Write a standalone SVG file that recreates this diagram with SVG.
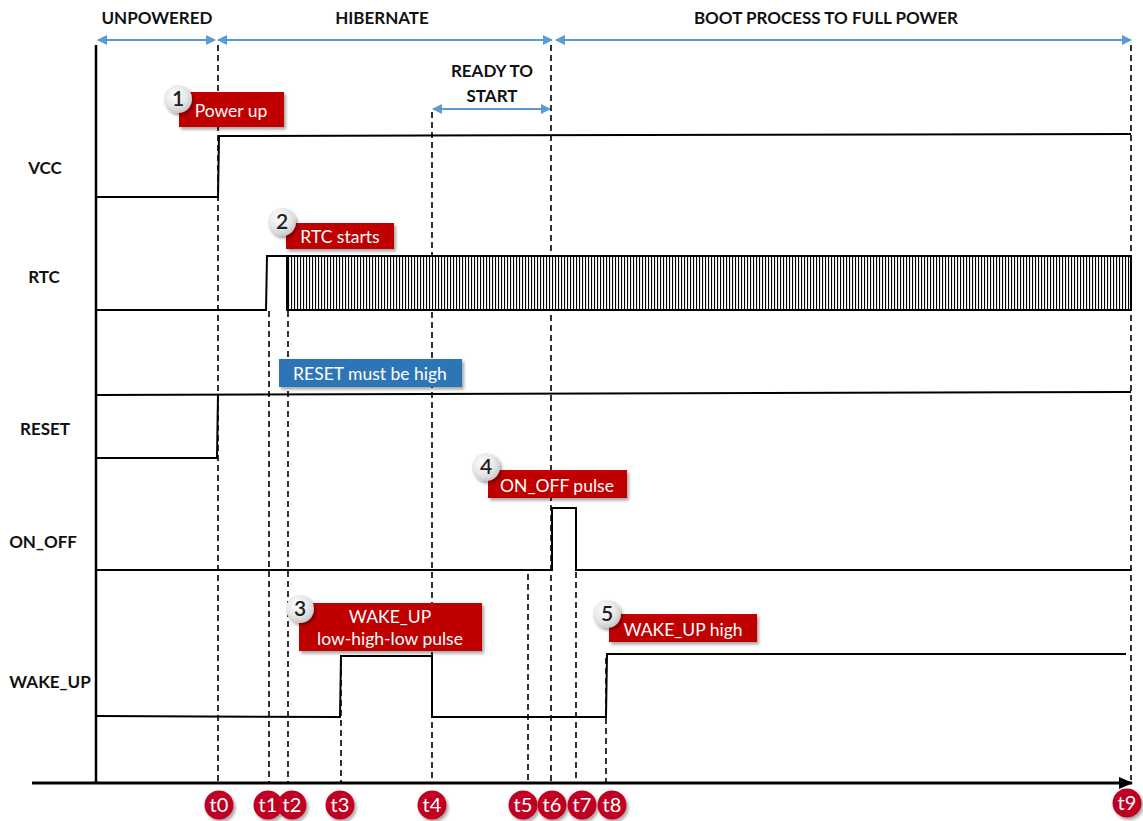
<svg xmlns="http://www.w3.org/2000/svg" width="1143" height="821" viewBox="0 0 1143 821">
<style>
  .lbl { font-family: Lato, "Open Sans", sans-serif; font-weight: bold; font-size: 17px; fill: #111; }
  .sig { fill: none; stroke: #000; stroke-width: 2; }
  .dash { fill: none; stroke: #000; stroke-width: 1.6; stroke-dasharray: 6 4; }
  .span { fill: none; stroke: #5B9BD5; stroke-width: 2; marker-start: url(#bs); marker-end: url(#be); }
  .box { fill: #C00000; filter: url(#sh); }
  .boxb { fill: #2E75B6; filter: url(#sh); }
  .bt { font-family: Lato, "Open Sans", sans-serif; font-size: 17.5px; fill: #fff; }
  .num { fill: url(#g); filter: url(#sh); }
  .nt { font-family: Lato, "Open Sans", sans-serif; font-size: 21px; font-weight: 600; fill: #222; text-anchor: middle; }
  .tc { fill: #C00021; filter: url(#sh); }
  .tt { font-family: Lato, "Open Sans", sans-serif; font-size: 20px; fill: #fff; text-anchor: middle; }
</style>
<defs>
  <marker id="be" markerWidth="10" markerHeight="10" refX="9" refY="5" orient="auto" markerUnits="userSpaceOnUse">
    <path d="M0,0 L10,5 L0,10 Z" fill="#5B9BD5"/>
  </marker>
  <marker id="bs" markerWidth="10" markerHeight="10" refX="1" refY="5" orient="auto" markerUnits="userSpaceOnUse">
    <path d="M10,0 L0,5 L10,10 Z" fill="#5B9BD5"/>
  </marker>
  <marker id="ax" markerWidth="14" markerHeight="12" refX="13" refY="6" orient="auto" markerUnits="userSpaceOnUse">
    <path d="M0,0 L14,6 L0,12 Z" fill="#000"/>
  </marker>
  <pattern id="hatch" width="3" height="10" patternUnits="userSpaceOnUse">
    <rect width="3" height="10" fill="#fff"/>
    <rect width="1.1" height="10" fill="#000"/>
  </pattern>
  <radialGradient id="g" cx="0.4" cy="0.35" r="0.7">
    <stop offset="0" stop-color="#ffffff"/>
    <stop offset="0.6" stop-color="#e6e6e6"/>
    <stop offset="1" stop-color="#c4c4c4"/>
  </radialGradient>
  <filter id="sh" x="-20%" y="-30%" width="150%" height="170%">
    <feDropShadow dx="2" dy="2.5" stdDeviation="1.8" flood-color="#000" flood-opacity="0.35"/>
  </filter>
</defs>
<rect width="1143" height="821" fill="#fff"/>

<g id="phases">
  <text class="lbl" x="157" y="24" text-anchor="middle">UNPOWERED</text>
  <text class="lbl" x="382" y="24" text-anchor="middle">HIBERNATE</text>
  <text class="lbl" x="826" y="24" text-anchor="middle">BOOT PROCESS TO FULL POWER</text>
  <text class="lbl" x="492" y="77" text-anchor="middle">READY TO</text>
  <text class="lbl" x="492" y="102" text-anchor="middle">START</text>
</g>

<g id="signal-names">
  <text class="lbl" x="45" y="174" text-anchor="middle">VCC</text>
  <text class="lbl" x="44" y="283" text-anchor="middle">RTC</text>
  <text class="lbl" x="45" y="435" text-anchor="middle">RESET</text>
  <text class="lbl" x="43" y="548" text-anchor="middle">ON_OFF</text>
  <text class="lbl" x="50" y="688" text-anchor="middle">WAKE_UP</text>
</g>

<g id="connectors">
  <line class="span" x1="98" y1="40" x2="215" y2="40"/>
  <line class="span" x1="218" y1="40" x2="552" y2="40"/>
  <line class="span" x1="556" y1="40" x2="1131" y2="40"/>
  <line class="span" x1="433" y1="109" x2="550" y2="109"/>

  <line class="dash" x1="218" y1="45" x2="218" y2="782"/>
  <line class="dash" x1="269" y1="311" x2="269" y2="782"/>
  <line class="dash" x1="288" y1="311" x2="288" y2="782"/>
  <line class="dash" x1="341" y1="660" x2="341" y2="782"/>
  <line class="dash" x1="432" y1="112" x2="432" y2="782"/>
  <line class="dash" x1="528" y1="574" x2="528" y2="782"/>
  <line class="dash" x1="551" y1="45" x2="551" y2="782"/>
  <line class="dash" x1="576" y1="572" x2="576" y2="782"/>
  <line class="dash" x1="606" y1="658" x2="606" y2="782"/>
  <line class="dash" x1="1131" y1="45" x2="1131" y2="780"/>

  <line x1="96" y1="45" x2="96" y2="784" stroke="#000" stroke-width="2.5"/>
  <line x1="32" y1="783" x2="1132" y2="783" stroke="#000" stroke-width="3" marker-end="url(#ax)"/>
</g>

<g id="vcc">
  <polyline class="sig" points="97,197 218,197 219,136 1131,134"/>
</g>
<g id="rtc">
  <polyline class="sig" points="97,310 266,310 267,256 287,256"/>
  <rect x="287" y="256" width="844" height="54" fill="url(#hatch)" stroke="#000" stroke-width="2"/>
</g>
<g id="reset">
  <polyline class="sig" points="97,458 217,458 218,394"/>
  <line class="sig" x1="97" y1="395" x2="1131" y2="392"/>
</g>
<g id="on_off">
  <polyline class="sig" points="97,570 552,570 552,508 576,508 576,570 1131,570"/>
</g>
<g id="wake_up">
  <polyline class="sig" points="97,716 340,717 341,656 432,656 432,717 606,717 607,654 1126,654"/>
</g>

<g id="note1">
  <rect class="box" x="179" y="92" width="105" height="35"/>
  <text class="bt" x="231" y="117" text-anchor="middle">Power up</text>
  <circle class="num" cx="178" cy="99" r="14"/>
  <text class="nt" x="178" y="106">1</text>
</g>
<g id="note2">
  <rect class="box" x="286" y="223" width="108" height="26"/>
  <text class="bt" x="340" y="243" text-anchor="middle">RTC starts</text>
  <circle class="num" cx="282" cy="222" r="14"/>
  <text class="nt" x="282" y="229">2</text>
</g>
<g id="note-reset">
  <rect class="boxb" x="279" y="359" width="183" height="28"/>
  <text class="bt" x="370" y="380" text-anchor="middle">RESET must be high</text>
</g>
<g id="note3">
  <rect class="box" x="299" y="603" width="183" height="48"/>
  <text class="bt" x="390" y="623" text-anchor="middle">WAKE_UP</text>
  <text class="bt" x="390" y="645" text-anchor="middle">low-high-low pulse</text>
  <circle class="num" cx="300" cy="609" r="14"/>
  <text class="nt" x="300" y="616">3</text>
</g>
<g id="note4">
  <rect class="box" x="488" y="470" width="139" height="28"/>
  <text class="bt" x="557" y="492" text-anchor="middle">ON_OFF pulse</text>
  <circle class="num" cx="486" cy="467" r="14"/>
  <text class="nt" x="486" y="474">4</text>
</g>
<g id="note5">
  <rect class="box" x="609" y="614" width="148" height="28"/>
  <text class="bt" x="683" y="636" text-anchor="middle">WAKE_UP high</text>
  <circle class="num" cx="607" cy="614" r="14"/>
  <text class="nt" x="607" y="621">5</text>
</g>

<g id="times">
  <circle class="tc" cx="219" cy="805" r="14.5"/><text class="tt" x="219" y="812">t0</text>
  <circle class="tc" cx="268" cy="805" r="14.5"/><text class="tt" x="268" y="812">t1</text>
  <circle class="tc" cx="292" cy="805" r="14.5"/><text class="tt" x="292" y="812">t2</text>
  <circle class="tc" cx="340" cy="805" r="14.5"/><text class="tt" x="340" y="812">t3</text>
  <circle class="tc" cx="432" cy="805" r="14.5"/><text class="tt" x="432" y="812">t4</text>
  <circle class="tc" cx="523" cy="805" r="14.5"/><text class="tt" x="523" y="812">t5</text>
  <circle class="tc" cx="552" cy="805" r="14.5"/><text class="tt" x="552" y="812">t6</text>
  <circle class="tc" cx="582" cy="805" r="14.5"/><text class="tt" x="582" y="812">t7</text>
  <circle class="tc" cx="612" cy="805" r="14.5"/><text class="tt" x="612" y="812">t8</text>
  <circle class="tc" cx="1127" cy="803" r="14.5"/><text class="tt" x="1127" y="810">t9</text>
</g>
</svg>
